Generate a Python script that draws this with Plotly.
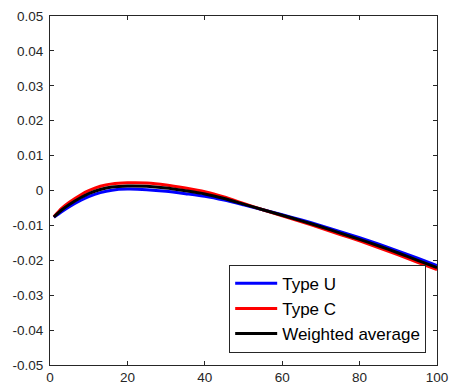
import plotly.graph_objects as go

x = [1, 3, 5, 8, 10, 13, 16, 20, 25, 30, 35, 40, 45, 50, 55, 60, 65, 70, 75, 80, 85, 90, 95, 100]

type_u = [-0.0077, -0.0061, -0.00465, -0.0028, -0.00175, -0.0006, 0.0001, 0.0004, 0.00025, -0.0002,
          -0.0009, -0.00165, -0.00275, -0.0041, -0.0055, -0.00695, -0.00845, -0.01005, -0.0118, -0.01355,
          -0.0154, -0.01735, -0.0194, -0.0215]
type_c = [-0.0075, -0.0051, -0.00335, -0.0012, -0.00005, 0.0012, 0.0019, 0.0022, 0.00215, 0.0016,
          0.0007, -0.00035, -0.00185, -0.0037, -0.0055, -0.00725, -0.00895, -0.01075, -0.0126, -0.01445,
          -0.0164, -0.01845, -0.0206, -0.0227]
weighted = [-0.0076, -0.0056, -0.0040, -0.0020, -0.0009, 0.0003, 0.0010, 0.0013, 0.0012, 0.0007,
            -0.0001, -0.0010, -0.0023, -0.0039, -0.0055, -0.0071, -0.0087, -0.0104, -0.0122, -0.0140,
            -0.0159, -0.0179, -0.0200, -0.0221]

x_ticks = [0, 20, 40, 60, 80, 100]
y_ticks = [-0.05, -0.04, -0.03, -0.02, -0.01, 0, 0.01, 0.02, 0.03, 0.04, 0.05]
y_tick_labels = ["-0.05", "-0.04", "-0.03", "-0.02", "-0.01", "0", "0.01", "0.02", "0.03", "0.04", "0.05"]

fig = go.Figure()
for name, ys, col in [("Type U", type_u, "#0000ff"), ("Type C", type_c, "#ff0000"),
                      ("Weighted average", weighted, "#000000")]:
    fig.add_trace(go.Scatter(x=x, y=ys, mode="lines", name=name,
                             line=dict(color=col, width=3, shape="spline", smoothing=0.6)))

axis_common = dict(showgrid=False, zeroline=False, showline=True, linecolor="#262626", linewidth=1,
                   mirror="ticks", ticks="inside", ticklen=4, tickcolor="#262626", automargin=False,
                   tickfont=dict(family="Liberation Sans, Arial, sans-serif", size=13.5, color="#262626"))

fig.update_layout(
    width=450, height=387,
    margin=dict(l=50, r=13, t=16, b=22, autoexpand=False),
    paper_bgcolor="white", plot_bgcolor="white",
    xaxis=dict(range=[0, 100], tickvals=x_ticks, **axis_common),
    yaxis=dict(range=[-0.05, 0.05], tickvals=y_ticks, ticktext=y_tick_labels,
               ticklabelstandoff=3, **axis_common),
    legend=dict(x=0.463, y=0.035, xanchor="left", yanchor="bottom",
                bordercolor="#262626", borderwidth=1, bgcolor="white",
                font=dict(family="Liberation Sans, Arial, sans-serif", size=17, color="#000000"),
                tracegroupgap=0, itemwidth=42),
    showlegend=True,
)

fig.write_html("out.html", config={"displayModeBar": False},
               post_script="document.body.style.margin='0';document.body.style.padding='0';")
